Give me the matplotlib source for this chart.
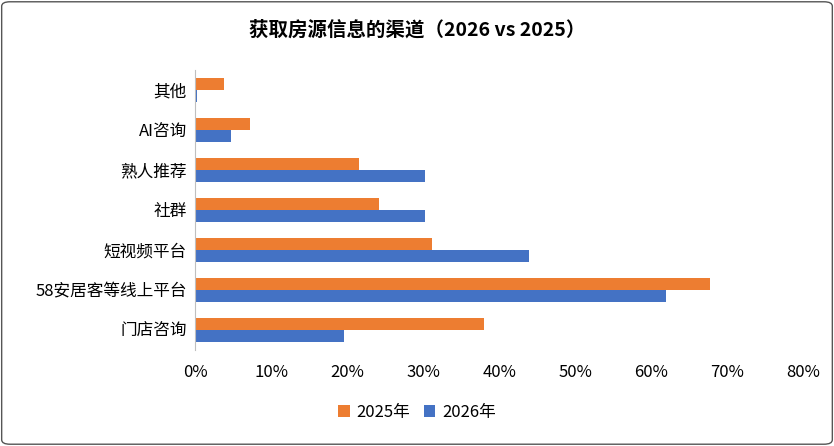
import matplotlib
matplotlib.use("Agg")
import matplotlib.pyplot as plt
import numpy as np
from matplotlib.patches import FancyBboxPatch

plt.rcParams['font.family'] = ['Noto Sans CJK SC', 'DejaVu Sans']

categories = ["门店咨询", "58安居客等线上平台", "短视频平台", "社群", "熟人推荐", "AI咨询", "其他"]
v2025 = [38.0, 67.8, 31.1, 24.2, 21.6, 7.2, 3.8]
v2026 = [19.6, 62.0, 43.9, 30.3, 30.3, 4.7, 0.2]

fig = plt.figure(figsize=(8.34, 4.46), dpi=100)
ax = fig.add_axes([0.234, 0.216, 0.729, 0.628])
y = np.arange(len(categories))
h = 0.3
ax.barh(y + h/2, v2025, height=h, color="#ED7D31", label="2025年")
ax.barh(y - h/2, v2026, height=h, color="#4472C4", label="2026年")
ax.set_yticks(y)
ax.set_yticklabels(categories, fontsize=12)
ax.set_xlim(0, 80)
ax.set_ylim(-0.5, 6.5)
ax.set_xticks(range(0, 81, 10))
ax.set_xticklabels([f"{t}%" for t in range(0, 81, 10)], fontsize=12)
for s in ["top", "right", "bottom"]:
    ax.spines[s].set_visible(False)
ax.spines["left"].set_color("#bfbfbf")
ax.tick_params(length=0, pad=6)
ax.tick_params(axis='x', pad=10)
fig.suptitle("获取房源信息的渠道（2026 vs 2025）", fontsize=14, fontweight="bold", y=0.955)
fig.legend(loc="center", bbox_to_anchor=(0.5, 0.075), ncol=2, frameon=False, fontsize=12,
           handlelength=0.7, handleheight=0.7, columnspacing=0.8, handletextpad=0.4)
fig.patches.append(FancyBboxPatch((0.002, 0.004), 0.996, 0.992, boxstyle="round,pad=0,rounding_size=0.01",
                                  transform=fig.transFigure, fill=False, edgecolor="#555555", lw=1))
fig.savefig("out.png", dpi=100)
